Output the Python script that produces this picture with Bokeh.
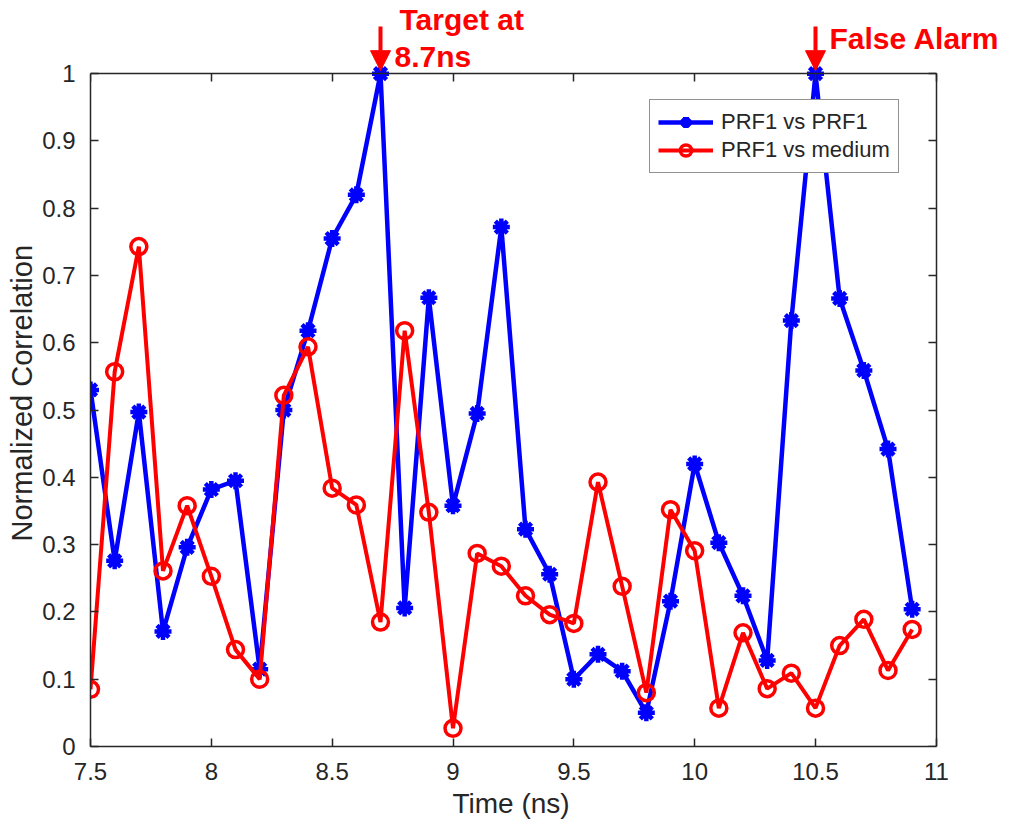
from bokeh.plotting import figure
from bokeh.models import (LinearAxis, FixedTicker, Range1d, Legend, LegendItem,
                          Label, Arrow, NormalHead, ColumnDataSource,
                          CustomLabelingPolicy, Title)
from bokeh.embed import file_html
from bokeh.resources import INLINE

# Time samples (ns)
time_ns = [7.5, 7.6, 7.7, 7.8, 7.9, 8.0, 8.1, 8.2, 8.3, 8.4, 8.5, 8.6, 8.7, 8.8,
           8.9, 9.0, 9.1, 9.2, 9.3, 9.4, 9.5, 9.6, 9.7, 9.8, 9.9, 10.0, 10.1,
           10.2, 10.3, 10.4, 10.5, 10.6, 10.7, 10.8, 10.9]

# Normalized correlation, PRF1 vs PRF1
prf1_vs_prf1 = [0.53, 0.276, 0.497, 0.171, 0.296, 0.382, 0.395, 0.115, 0.50,
                0.618, 0.755, 0.82, 1.0, 0.206, 0.667, 0.358, 0.495, 0.772,
                0.323, 0.256, 0.10, 0.137, 0.112, 0.05, 0.216, 0.42, 0.303,
                0.224, 0.128, 0.633, 1.0, 0.666, 0.559, 0.442, 0.204]

# Normalized correlation, PRF1 vs medium
prf1_vs_medium = [0.085, 0.557, 0.743, 0.261, 0.358, 0.253, 0.144, 0.10, 0.522,
                  0.594, 0.384, 0.359, 0.185, 0.618, 0.348, 0.027, 0.287, 0.268,
                  0.224, 0.196, 0.183, 0.393, 0.238, 0.08, 0.352, 0.291, 0.057,
                  0.169, 0.086, 0.109, 0.057, 0.150, 0.189, 0.113, 0.174]

x_ticks = [7.5, 8, 8.5, 9, 9.5, 10, 10.5, 11]
x_tick_labels = ["7.5", "8", "8.5", "9", "9.5", "10", "10.5", "11"]
y_ticks = [0, 0.1, 0.2, 0.3, 0.4, 0.5, 0.6, 0.7, 0.8, 0.9, 1]
y_tick_labels = ["0", "0.1", "0.2", "0.3", "0.4", "0.5", "0.6", "0.7", "0.8", "0.9", "1"]

# Annotated events
target_time = 8.7
alarm_time = 10.5

FONT = "Liberation Sans"
AX = "#262626"
BLUE = "#0000FF"
RED = "#FF0000"

X0, X1 = 7.5, 11.0
Y0, Y1 = 0.0, 1.0

# Page geometry of the axes box (px) and of the drawing frame, which is
# extended up and to the right so the event notes have room.
W, H = 1012, 832
BOX_L, BOX_R, BOX_T, BOX_B = 90, 934, 75, 746
FRAME_T, FRAME_R = 2, 1010
px_x = (BOX_R - BOX_L) / (X1 - X0)
px_y = (BOX_B - BOX_T) / (Y1 - Y0)
x_end = X0 + (FRAME_R - BOX_L) / px_x
y_end = Y0 + (BOX_B - FRAME_T) / px_y

p = figure(width=W, height=H, output_backend="svg", toolbar_location=None,
           x_range=Range1d(X0, x_end), y_range=Range1d(Y0, y_end),
           x_axis_location=None, y_axis_location=None,
           min_border_left=BOX_L, min_border_right=0,
           min_border_top=0, min_border_bottom=H - BOX_B,
           background_fill_color="white", border_fill_color="white")
p.grid.visible = False
p.outline_line_color = None

x_overrides = dict(zip(x_ticks, x_tick_labels))
y_overrides = dict(zip(y_ticks, y_tick_labels))

no_labels = CustomLabelingPolicy(code="""
for (const i of [...indices]) indices.unset(i)
return indices
""")


def make_axis(ticks, overrides, bounds, show_labels, fixed=None):
    ax = LinearAxis(ticker=FixedTicker(ticks=ticks), bounds=bounds)
    if fixed is not None:
        ax.fixed_location = fixed
    ax.major_label_overrides = overrides
    ax.axis_line_color = AX
    ax.axis_line_width = 1.5
    ax.major_tick_line_color = AX
    ax.major_tick_line_width = 1.5
    ax.major_tick_in = 8
    ax.major_tick_out = 0
    ax.minor_tick_line_color = None
    ax.major_label_text_font = FONT
    ax.major_label_text_color = AX
    if show_labels:
        ax.major_label_text_font_size = "24px"
    else:
        ax.major_label_text_font_size = "1px"
        ax.major_label_text_alpha = 0
        ax.major_label_standoff = 0
        ax.major_label_policy = no_labels
    return ax


bottom = make_axis(x_ticks, x_overrides, (X0, X1), True)
bottom.major_label_standoff = 16
left = make_axis(y_ticks, y_overrides, (Y0, Y1), True)
left.major_label_standoff = 15
top = make_axis(x_ticks, x_overrides, (X0, X1), False, fixed=Y1)
right = make_axis(y_ticks, y_overrides, (Y0, Y1), False, fixed=X1)
p.add_layout(bottom, "below")
p.add_layout(left, "left")
p.add_layout(top, "above")
p.add_layout(right, "right")

# Axis titles, centred on the axes box rather than on the wider frame
title_style = dict(text_font=FONT, text_font_style="normal", text_color=AX,
                   align="left")
p.add_layout(Title(text="Time (ns)", text_font_size="28px", offset=362,
                   standoff=6, **title_style), "below")
p.add_layout(Title(text="Normalized Correlation", text_font_size="29px",
                   offset=205, standoff=4, **title_style), "left")

src = ColumnDataSource(dict(t=time_ns, a=prf1_vs_prf1, b=prf1_vs_medium))

blue_line = p.line("t", "a", source=src, line_color=BLUE, line_width=4.5)
blue_pts = p.scatter("t", "a", source=src, marker="asterisk", size=17,
                     line_color=BLUE, line_width=4.5)
red_line = p.line("t", "b", source=src, line_color=RED, line_width=4)
red_pts = p.scatter("t", "b", source=src, marker="circle", size=16,
                    fill_color=None, line_color=RED, line_width=3.5)

legend = Legend(items=[LegendItem(label="PRF1 vs PRF1", renderers=[blue_line, blue_pts]),
                       LegendItem(label="PRF1 vs medium", renderers=[red_line, red_pts])],
                location=(559, 573), margin=0, padding=8, spacing=0,
                glyph_width=55, glyph_height=28, label_height=28,
                label_standoff=8, label_text_font=FONT,
                label_text_font_size="22px", label_text_color=AX,
                border_line_color=AX, border_line_width=1.5,
                background_fill_color="white", background_fill_alpha=1)
p.add_layout(legend, "center")

# Event arrows pointing down onto the top edge of the axes box
arrow_top = Y1 + 47 / px_y
arrow_tip = Y1 + 3 / px_y
for t in (target_time, alarm_time):
    p.add_layout(Arrow(end=NormalHead(size=20, fill_color=RED, line_color=RED,
                                      line_width=1),
                       x_start=t, y_start=arrow_top, x_end=t, y_end=arrow_tip,
                       line_color=RED, line_width=4))

label_style = dict(text_font=FONT, text_font_style="bold", text_font_size="30px",
                   text_color=RED, text_baseline="alphabetic", text_align="left")
p.add_layout(Label(x=target_time, y=Y1, x_offset=19, y_offset=54,
                   text="Target at", **label_style))
p.add_layout(Label(x=target_time, y=Y1, x_offset=14, y_offset=17,
                   text="8.7ns", **label_style))
p.add_layout(Label(x=alarm_time, y=Y1, x_offset=14, y_offset=35,
                   text="False Alarm", **label_style))

open("out.html", "w").write(file_html(p, INLINE))
